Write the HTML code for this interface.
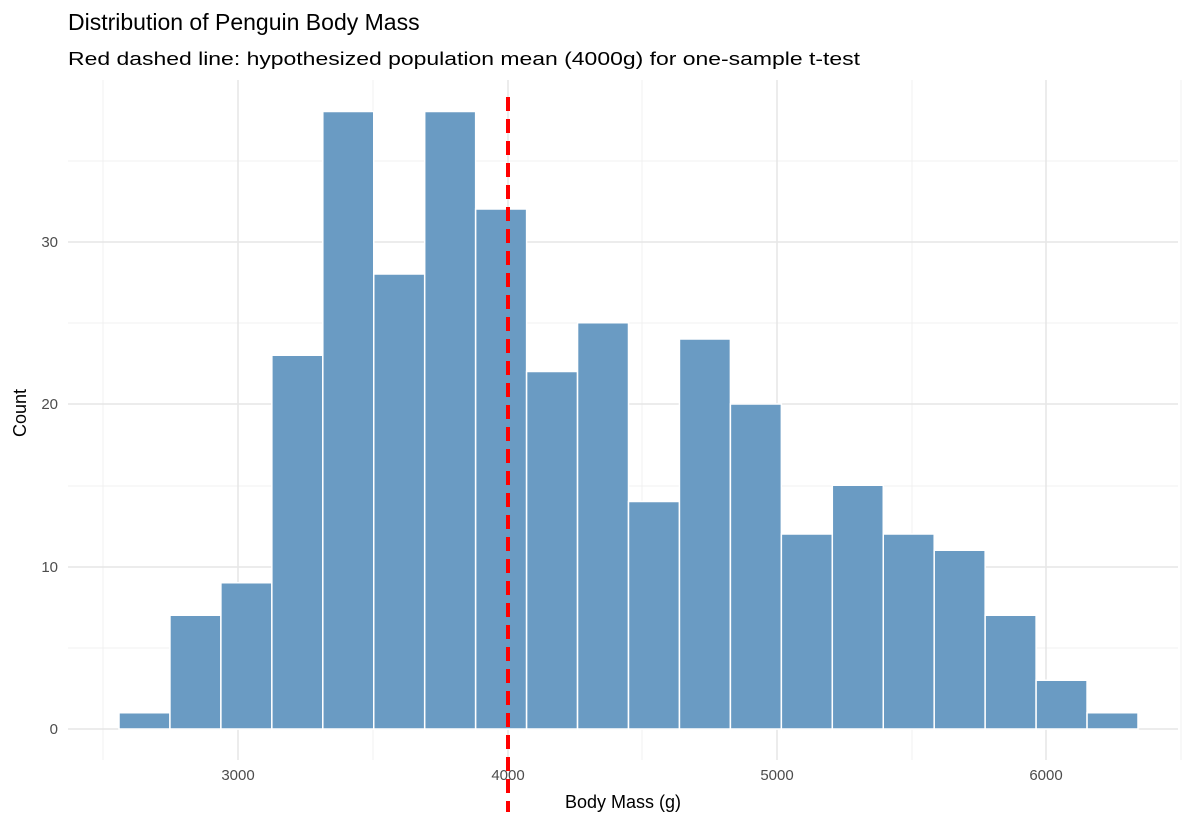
<!DOCTYPE html>
<html><head><style>body{margin:0;background:#fff}</style></head><body>
<svg width="1200" height="825" xmlns="http://www.w3.org/2000/svg" font-family="Liberation Sans, sans-serif">
<rect width="1200" height="825" fill="#fff"/>
<g stroke="#f0f0f0" stroke-width="1">
<line x1="68" x2="1178" y1="648" y2="648"/><line x1="68" x2="1178" y1="486" y2="486"/><line x1="68" x2="1178" y1="323" y2="323"/><line x1="68" x2="1178" y1="161" y2="161"/>
<line x1="103" x2="103" y1="80" y2="760"/><line x1="373" x2="373" y1="80" y2="760"/><line x1="642" x2="642" y1="80" y2="760"/><line x1="912" x2="912" y1="80" y2="760"/><line x1="1181" x2="1181" y1="80" y2="760"/>
</g>
<g stroke="#e6e6e6" stroke-width="1.5">
<line x1="68" x2="1178" y1="729" y2="729"/><line x1="68" x2="1178" y1="567" y2="567"/><line x1="68" x2="1178" y1="404" y2="404"/><line x1="68" x2="1178" y1="242" y2="242"/>
<line x1="238" x2="238" y1="80" y2="760"/><line x1="508" x2="508" y1="80" y2="760"/><line x1="777" x2="777" y1="80" y2="760"/><line x1="1046" x2="1046" y1="80" y2="760"/>
</g>
<g fill="#6a9bc3" stroke="#fff" stroke-width="1.5">
<rect x="119" y="712.75" width="50.95" height="16.25"/>
<rect x="169.95" y="615.25" width="50.95" height="113.75"/>
<rect x="220.9" y="582.75" width="50.95" height="146.25"/>
<rect x="271.85" y="355.25" width="50.95" height="373.75"/>
<rect x="322.8" y="111.5" width="50.95" height="617.5"/>
<rect x="373.75" y="274" width="50.95" height="455"/>
<rect x="424.7" y="111.5" width="50.95" height="617.5"/>
<rect x="475.65" y="209" width="50.95" height="520"/>
<rect x="526.6" y="371.5" width="50.95" height="357.5"/>
<rect x="577.55" y="322.75" width="50.95" height="406.25"/>
<rect x="628.5" y="501.5" width="50.95" height="227.5"/>
<rect x="679.45" y="339" width="50.95" height="390"/>
<rect x="730.4" y="404" width="50.95" height="325"/>
<rect x="781.35" y="534" width="50.95" height="195"/>
<rect x="832.3" y="485.25" width="50.95" height="243.75"/>
<rect x="883.25" y="534" width="50.95" height="195"/>
<rect x="934.2" y="550.25" width="50.95" height="178.75"/>
<rect x="985.15" y="615.25" width="50.95" height="113.75"/>
<rect x="1036.1" y="680.25" width="50.95" height="48.75"/>
<rect x="1087.05" y="712.75" width="50.95" height="16.25"/>
</g>
<line x1="508" x2="508" y1="97" y2="812" stroke="#ff0000" stroke-width="4" stroke-dasharray="14,8"/>
<g font-size="15" fill="#4d4d4d" text-anchor="end">
<text x="58" y="734">0</text><text x="58" y="572">10</text><text x="58" y="409">20</text><text x="58" y="247">30</text>
</g>
<g font-size="15" fill="#4d4d4d" text-anchor="middle">
<text x="238" y="780">3000</text><text x="508" y="780">4000</text><text x="777" y="780">5000</text><text x="1046" y="780">6000</text>
</g>
<text x="623" y="808" font-size="18" text-anchor="middle">Body Mass (g)</text>
<text transform="translate(26,413) rotate(-90)" font-size="18" text-anchor="middle">Count</text>
<text x="68" y="30" font-size="23">Distribution of Penguin Body Mass</text>
<text x="68" y="65" font-size="18" textLength="792" lengthAdjust="spacingAndGlyphs">Red dashed line: hypothesized population mean (4000g) for one-sample t-test</text>
</svg>
</body></html>
